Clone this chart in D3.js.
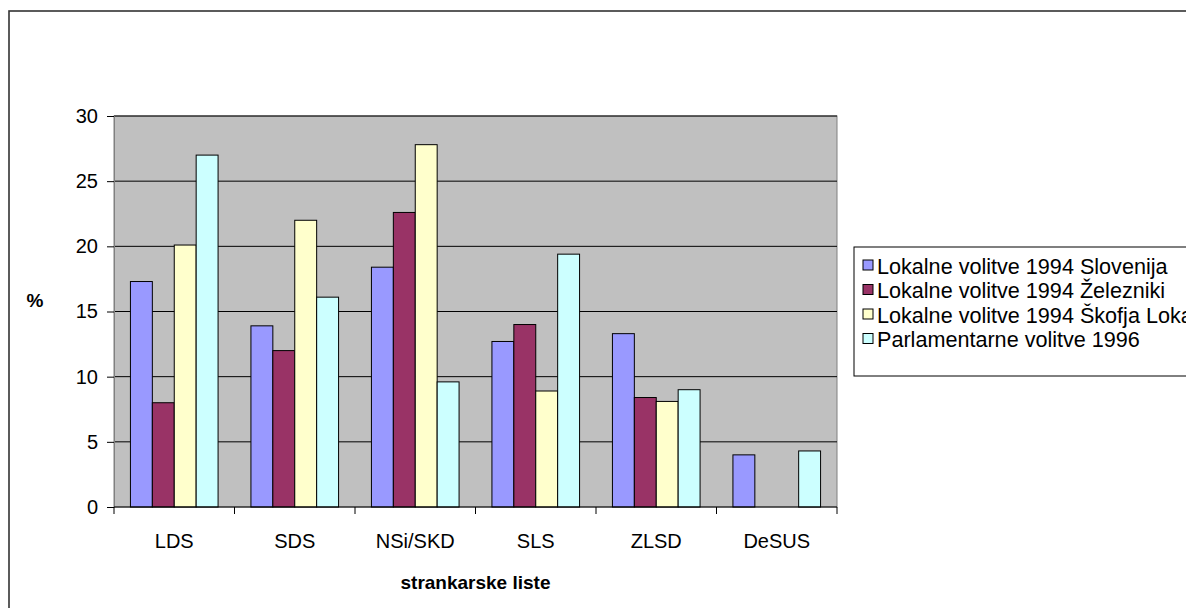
<!DOCTYPE html>
<html>
<head>
<meta charset="utf-8">
<script src="https://cdn.jsdelivr.net/npm/d3@7"></script>
<style>
  body { margin: 0; background: #fff; }
  svg { display: block; font-family: "Liberation Sans", Arial, sans-serif; }
</style>
</head>
<body>
<div id="chart"></div>
<script>
// party lists (x categories)
const parties = ["LDS", "SDS", "NSi/SKD", "SLS", "ZLSD", "DeSUS"];
// series names, in legend order
const seriesNames = [
  "Lokalne volitve 1994 Slovenija",
  "Lokalne volitve 1994 Železniki",
  "Lokalne volitve 1994 Škofja Loka",
  "Parlamentarne volitve 1996"
];
// percent per party, one array per series
const slovenija94 = [17.3, 13.9, 18.4, 12.7, 13.3, 4.0];
const zelezniki94 = [8.0, 12.0, 22.6, 14.0, 8.4, 0];
const skofjaLoka94 = [20.1, 22.0, 27.8, 8.9, 8.1, 0];
const parlament96 = [27.0, 16.1, 9.6, 19.4, 9.0, 4.3];
const yTicks = [0, 5, 10, 15, 20, 25, 30];
const colors = ["#9999FF", "#993366", "#FFFFCC", "#CCFFFF"];

class ClusteredBars {
  constructor(_config) {
    this.config = {
      parentElement: _config.parentElement,
      containerWidth: 1186,
      containerHeight: 608,
      plot: {left: 114, top: 116, right: 837, bottom: 507}
    };
    this.initVis();
  }

  initVis() {
    let vis = this;
    const p = vis.config.plot;
    const series = [slovenija94, zelezniki94, skofjaLoka94, parlament96];

    vis.svg = d3.select(vis.config.parentElement).append("svg")
      .attr("width", vis.config.containerWidth)
      .attr("height", vis.config.containerHeight);

    // outer chart frame (right and bottom run off the page)
    vis.svg.append("rect")
      .attr("x", 9).attr("y", 11)
      .attr("width", 1200).attr("height", 620)
      .attr("fill", "#fff")
      .attr("stroke", "#333").attr("stroke-width", 1.6);

    vis.x = d3.scaleBand().domain(parties).range([p.left, p.right]);
    // Excel gap width 150%: 4 bars + 1.5 bar gap per category
    vis.xInner = d3.scaleBand().domain(d3.range(4))
      .range([0, vis.x.bandwidth()]).paddingOuter(0.75).paddingInner(0);
    vis.y = d3.scaleLinear().domain([0, 30]).range([p.bottom, p.top]);

    // plot area
    vis.svg.append("rect")
      .attr("x", p.left).attr("y", p.top)
      .attr("width", p.right - p.left).attr("height", p.bottom - p.top)
      .attr("fill", "#C0C0C0").attr("stroke", "#808080").attr("stroke-width", 1);

    // gridlines
    vis.svg.append("g").selectAll("line")
      .data(yTicks.filter(d => d > 0))
      .join("line")
      .attr("x1", p.left).attr("x2", p.right)
      .attr("y1", d => vis.y(d)).attr("y2", d => vis.y(d))
      .attr("stroke", "#000").attr("stroke-width", 1);

    // bars
    const groups = vis.svg.append("g").selectAll("g")
      .data(parties)
      .join("g")
      .attr("transform", d => `translate(${vis.x(d)},0)`);

    groups.selectAll("rect")
      .data((d, i) => series.map((s, k) => ({k: k, v: s[i]})).filter(e => e.v > 0))
      .join("rect")
      .attr("x", d => vis.xInner(d.k))
      .attr("width", vis.xInner.bandwidth())
      .attr("y", d => vis.y(d.v))
      .attr("height", d => vis.y(0) - vis.y(d.v))
      .attr("fill", d => colors[d.k])
      .attr("stroke", "#000").attr("stroke-width", 1);

    // y axis
    const yAxis = d3.axisLeft(vis.y).tickValues(yTicks).tickSize(7).tickPadding(9);
    const gy = vis.svg.append("g")
      .attr("transform", `translate(${p.left},0)`)
      .call(yAxis);
    gy.select(".domain").attr("stroke", "#808080");
    gy.selectAll(".tick line").attr("stroke", "#000");
    gy.selectAll("text").attr("font-size", 20).attr("fill", "#000")
      .attr("font-family", "Liberation Sans, Arial, sans-serif");

    // x axis: ticks between categories
    const gx = vis.svg.append("g")
      .attr("transform", `translate(0,${p.bottom})`);
    gx.append("line")
      .attr("x1", p.left).attr("x2", p.right)
      .attr("stroke", "#000");
    gx.selectAll("line.tk")
      .data(d3.range(parties.length + 1))
      .join("line").attr("class", "tk")
      .attr("x1", i => p.left + i * vis.x.step())
      .attr("x2", i => p.left + i * vis.x.step())
      .attr("y1", 0).attr("y2", 7)
      .attr("stroke", "#000");
    gx.selectAll("text")
      .data(parties)
      .join("text")
      .attr("x", d => vis.x(d) + vis.x.bandwidth() / 2)
      .attr("y", 41)
      .attr("text-anchor", "middle")
      .attr("font-size", 20)
      .text(d => d);

    // axis titles
    vis.svg.append("text")
      .attr("x", (p.left + p.right) / 2).attr("y", 589)
      .attr("text-anchor", "middle")
      .attr("font-size", 19).attr("font-weight", "bold")
      .text("strankarske liste");
    vis.svg.append("text")
      .attr("x", 35).attr("y", 307)
      .attr("text-anchor", "middle")
      .attr("font-size", 19).attr("font-weight", "bold")
      .text("%");

    // legend
    const lg = vis.svg.append("g").attr("transform", "translate(854,247)");
    lg.append("rect")
      .attr("width", 400).attr("height", 129)
      .attr("fill", "#fff").attr("stroke", "#000").attr("stroke-width", 1);
    const items = lg.selectAll("g")
      .data(seriesNames)
      .join("g")
      .attr("transform", (d, i) => `translate(0,${19 + i * 24.5})`);
    items.append("rect")
      .attr("x", 9).attr("y", -6)
      .attr("width", 10).attr("height", 10)
      .attr("fill", (d, i) => colors[i])
      .attr("stroke", "#000").attr("stroke-width", 1);
    items.append("text")
      .attr("x", 23).attr("y", 7.5)
      .attr("font-size", 21.6)
      .text(d => d);
  }
}

new ClusteredBars({parentElement: "#chart"});
</script>
</body>
</html>
